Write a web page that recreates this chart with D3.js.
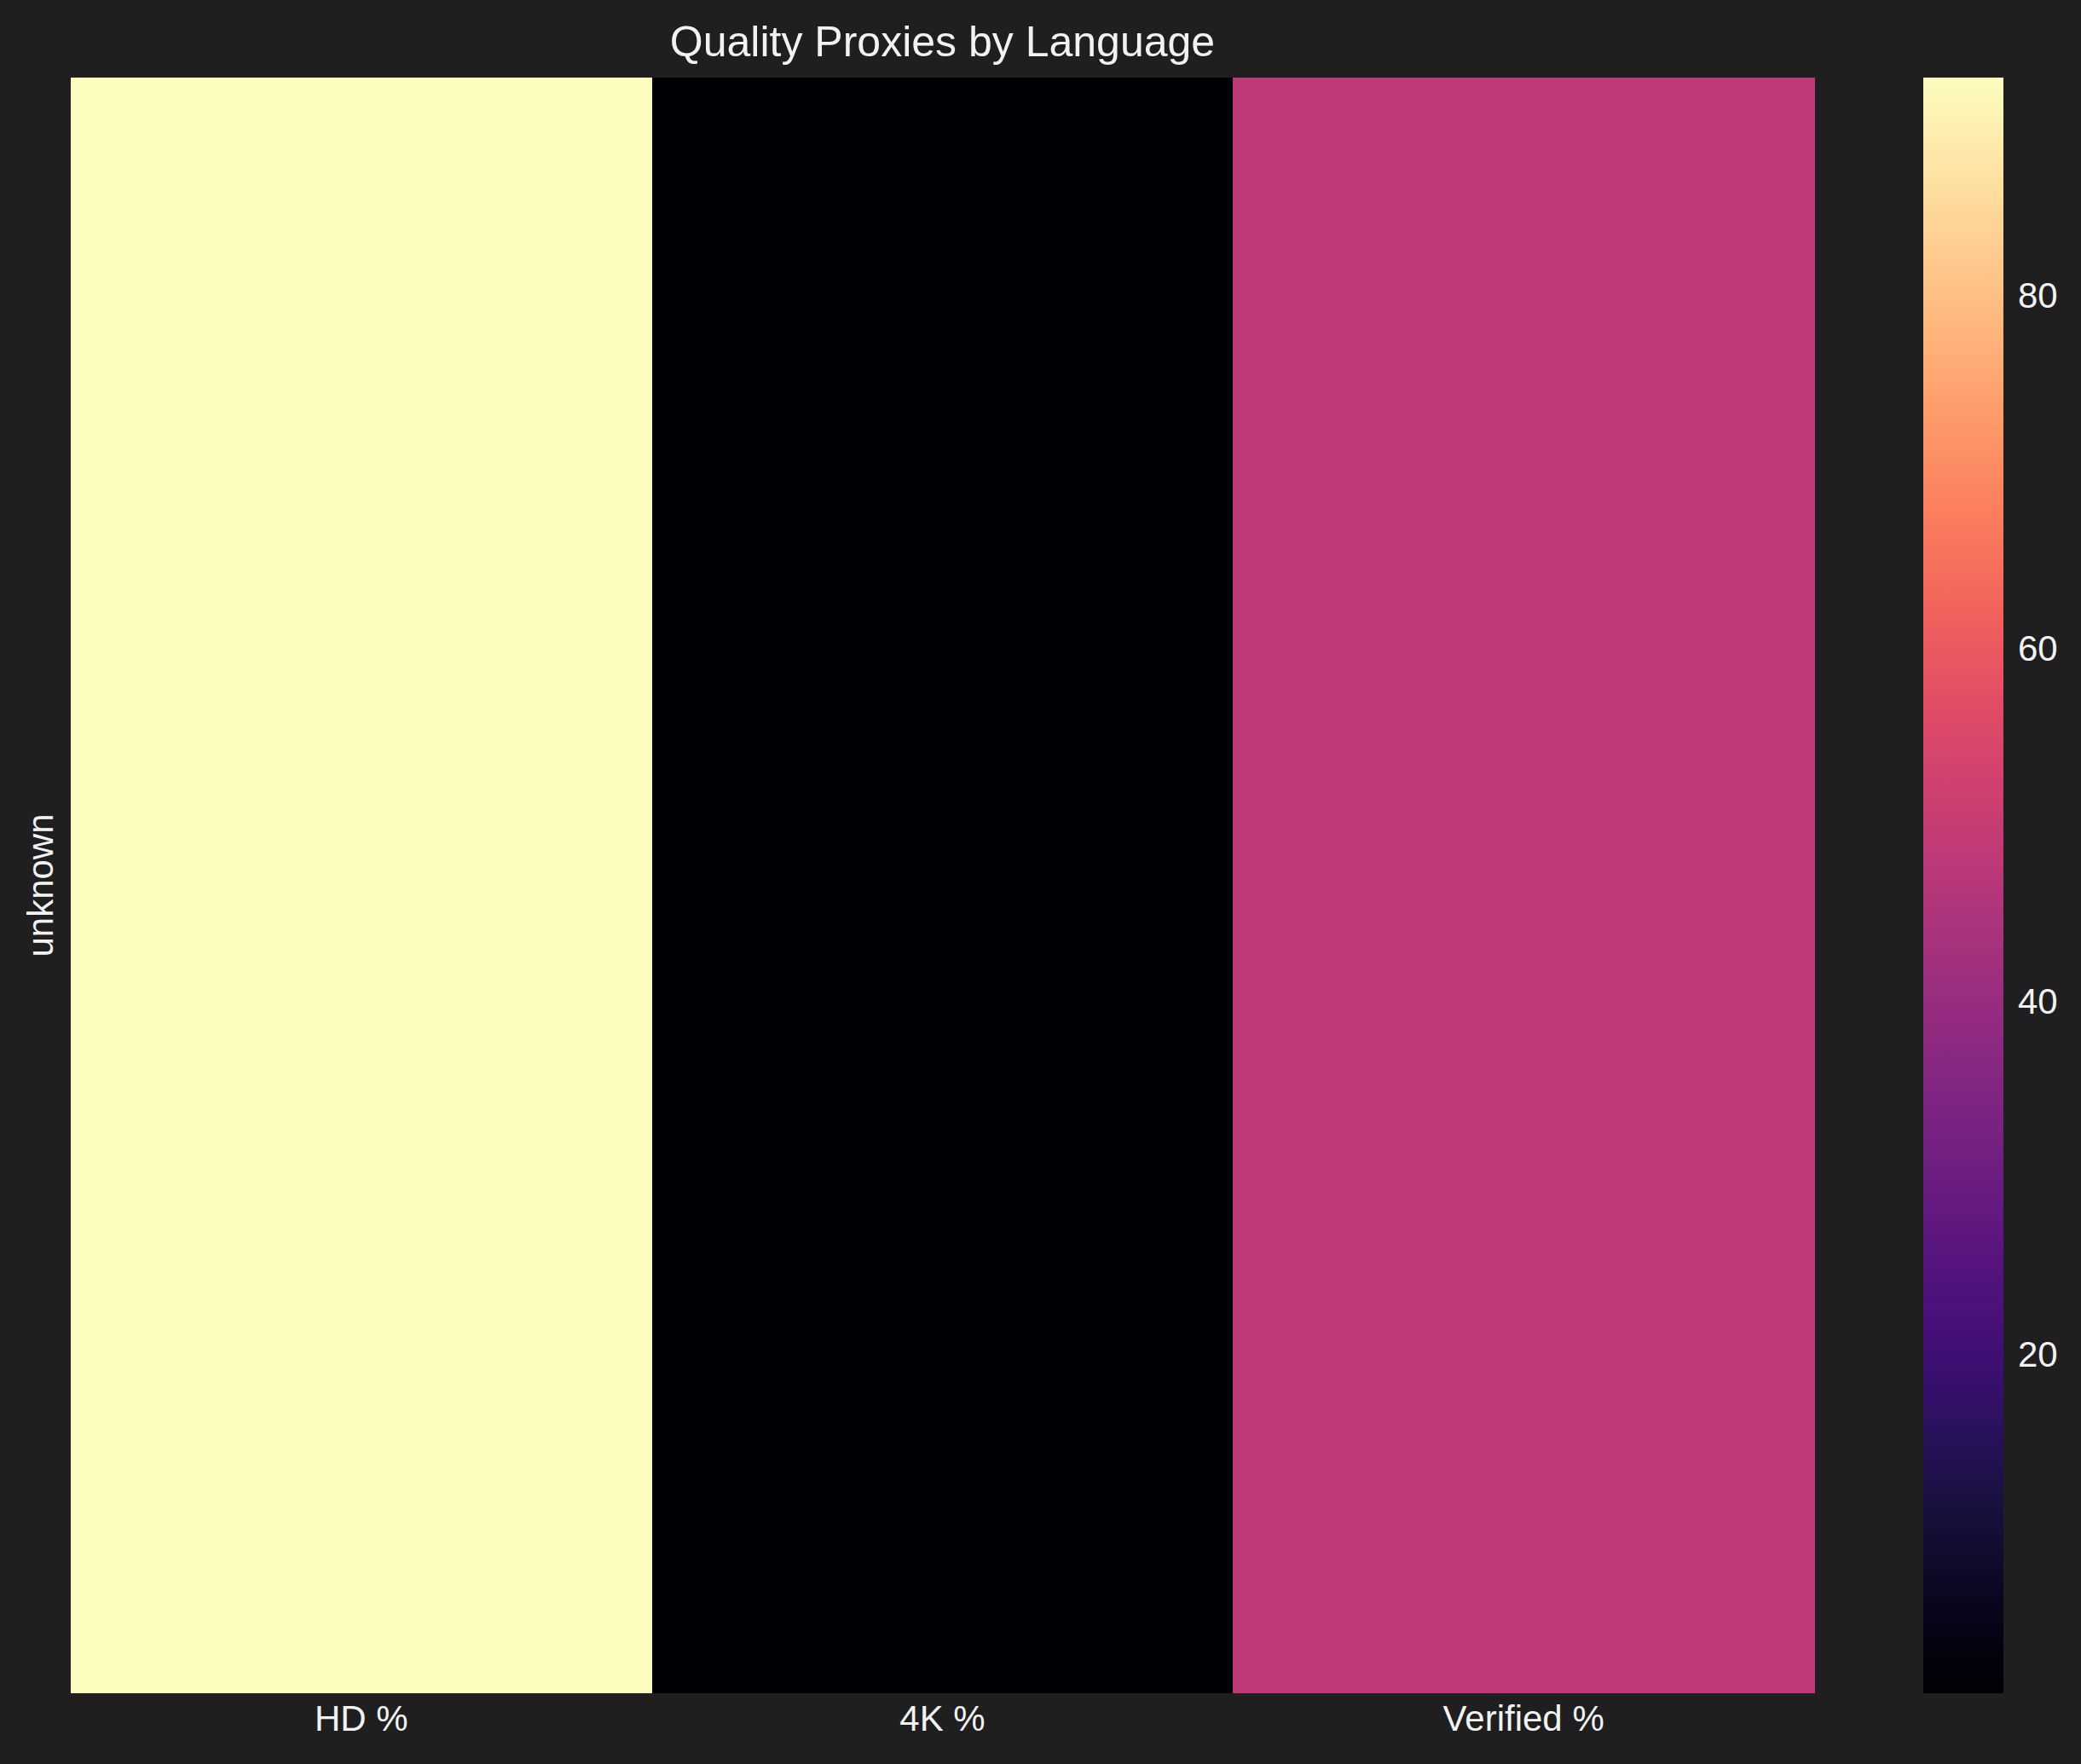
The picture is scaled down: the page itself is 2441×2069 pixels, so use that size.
<!DOCTYPE html>
<html>
<head>
<meta charset="utf-8">
<script src="https://cdn.jsdelivr.net/npm/d3@7"></script>
<style>
  html, body { margin: 0; padding: 0; background: #1f1f1f; }
  svg { display: block; }
  text { font-family: "Liberation Sans", Arial, Helvetica, sans-serif; fill: #f2f2f2; }
</style>
</head>
<body>
<script>
// ---- data ----
const columns = ["HD %", "4K %", "Verified %"];
const rows = ["unknown"];
const values = [92.4, 0.8, 48.2]; // row "unknown"
const colorbarTicks = [20, 40, 60, 80];
const title = "Quality Proxies by Language";

// ---- layout ----
const W = 2441, H = 2069;
const plot = { left: 83, right: 2128, top: 91, bottom: 1986 };
const cbar = { left: 2256, right: 2350 };

const svg = d3.select("body").append("svg")
  .attr("width", W).attr("height", H);
svg.append("rect").attr("width", W).attr("height", H).attr("fill", "#1f1f1f");

const x = d3.scaleBand().domain(columns).range([plot.left, plot.right]).padding(0);
const y = d3.scaleBand().domain(rows).range([plot.top, plot.bottom]).padding(0);
const vmin = d3.min(values), vmax = d3.max(values);
const color = d3.scaleSequential(d3.interpolateMagma).domain([vmin, vmax]);

const cells = [];
rows.forEach(r => columns.forEach((c, i) => cells.push({ r, c, v: values[i] })));

svg.append("g").selectAll("rect").data(cells).join("rect")
  .attr("x", d => x(d.c))
  .attr("y", d => y(d.r))
  .attr("width", x.bandwidth() + 0.5)
  .attr("height", y.bandwidth())
  .attr("fill", d => color(d.v))
  .attr("shape-rendering", "crispEdges");

// x axis
const xAxis = svg.append("g")
  .attr("transform", `translate(0,${plot.bottom})`)
  .call(d3.axisBottom(x).tickSize(0).tickPadding(14));
xAxis.select(".domain").remove();
xAxis.selectAll("text").attr("font-size", 42).attr("dy", "0.71em").attr("fill", "#f2f2f2");

// y axis
const yAxis = svg.append("g")
  .attr("transform", `translate(${plot.left},0)`)
  .call(d3.axisLeft(y).tickSize(0).tickPadding(21));
yAxis.select(".domain").remove();
yAxis.selectAll(".tick text")
  .attr("font-size", 42)
  .attr("fill", "#f2f2f2")
  .attr("x", 0).attr("dy", 0)
  .attr("text-anchor", "middle")
  .attr("transform", "translate(-21,0) rotate(-90)");

// title
svg.append("text")
  .attr("x", (plot.left + plot.right) / 2)
  .attr("y", 66)
  .attr("text-anchor", "middle")
  .attr("font-size", 50)
  .text(title);

// colorbar
const defs = svg.append("defs");
const grad = defs.append("linearGradient").attr("id", "cbgrad")
  .attr("x1", 0).attr("y1", 1).attr("x2", 0).attr("y2", 0);
d3.range(0, 1.0001, 0.02).forEach(t => {
  grad.append("stop").attr("offset", t).attr("stop-color", d3.interpolateMagma(t));
});
const cy = d3.scaleLinear().domain([vmin, vmax]).range([plot.bottom, plot.top]);
svg.append("rect")
  .attr("x", cbar.left).attr("y", plot.top)
  .attr("width", cbar.right - cbar.left).attr("height", plot.bottom - plot.top)
  .attr("fill", "url(#cbgrad)");
const cAxis = svg.append("g")
  .attr("transform", `translate(${cbar.right},0)`)
  .call(d3.axisRight(cy).tickValues(colorbarTicks).tickSize(0).tickPadding(17));
cAxis.select(".domain").remove();
cAxis.selectAll("text").attr("font-size", 42).attr("fill", "#f2f2f2");
</script>
</body>
</html>
